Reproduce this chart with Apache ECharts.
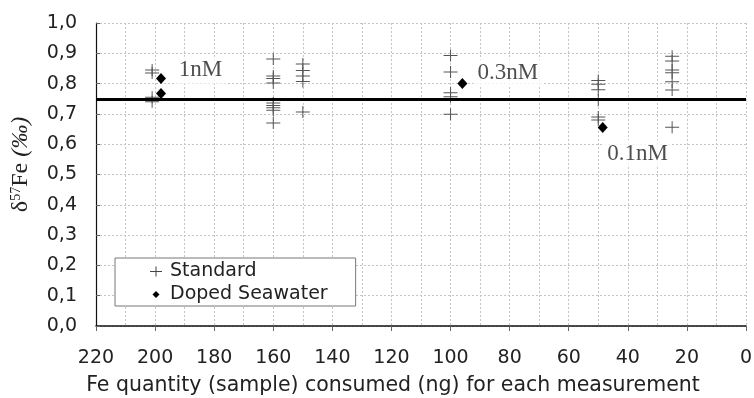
<!DOCTYPE html>
<html>
<head>
<meta charset="utf-8">
<script src="https://cdn.jsdelivr.net/npm/echarts@6/dist/echarts.min.js"></script>
<style>html,body{margin:0;padding:0;background:#fff;}#c{width:754px;height:398px;}</style>
</head>
<body>
<div id="c"></div>
<script>
// ---- data ----
const xTicks = [220, 200, 180, 160, 140, 120, 100, 80, 60, 40, 20, 0];
const yTicks = [0, 0.1, 0.2, 0.3, 0.4, 0.5, 0.6, 0.7, 0.8, 0.9, 1.0];
const stdX = [201, 160, 150, 100, 50, 25];
const stdValues = [
  [0.845, 0.835, 0.755, 0.74],
  [0.881, 0.825, 0.817, 0.802, 0.736, 0.728, 0.72, 0.712, 0.67],
  [0.865, 0.843, 0.825, 0.807, 0.706],
  [0.893, 0.838, 0.77, 0.757, 0.699],
  [0.81, 0.798, 0.78, 0.745, 0.69, 0.68],
  [0.89, 0.875, 0.845, 0.836, 0.806, 0.779, 0.656]
];
const dopedX = [198, 198, 96, 48.5];
const dopedY = [0.817, 0.767, 0.80, 0.655];
const annoNames = ['1nM', '0.3nM', '0.1nM'];
const annoX = [184.6, 80.6, 36.7];
const annoY = [0.844, 0.836, 0.569];
const refLevel = 0.75;

// ---- build ----
const stdData = [];
stdX.forEach((x, i) => stdValues[i].forEach(v => stdData.push([x, v])));
const dopedData = dopedX.map((x, i) => [x, dopedY[i]]);
const annoData = annoNames.map((n, i) => ({ name: n, value: [annoX[i], annoY[i]] }));

const plusPath = 'path://M0,5.5H14V6.5H0Z M6.5,0H7.5V12H6.5Z';
const plusIcon = 'path://M0,4.5H12V5.5H0Z M5.5,0H6.5V10H5.5Z';
const diaIcon = 'path://M0,0M12,10M6,1.5L9.5,5L6,8.5L2.5,5Z';
const sans = 'DejaVu Sans';
const serif = 'Liberation Serif';

const chart = echarts.init(document.getElementById('c'), null, { renderer: 'canvas' });
chart.setOption({
  animation: false,
  backgroundColor: '#fff',
  grid: { left: 96, right: 8, top: 23, bottom: 72, containLabel: false, outerBoundsMode: 'none' },
  xAxis: {
    type: 'value', inverse: true, min: 0, max: 220, interval: 20,
    axisLine: { onZero: false, lineStyle: { color: '#111', width: 1.5 } },
    axisTick: { show: true, length: 5, lineStyle: { color: '#666' } },
    axisLabel: { margin: 23, color: '#222', fontFamily: sans, fontSize: 19 },
    splitLine: { show: true, lineStyle: { color: '#c4c4c4', type: [2, 2], width: 1 } },
    minorTick: { show: false, splitNumber: 2 },
    minorSplitLine: { show: true, lineStyle: { color: '#c4c4c4', type: [2, 2], width: 1 } },
    name: 'Fe quantity (sample) consumed (ng) for each measurement',
    nameLocation: 'middle', nameGap: 49,
    nameTextStyle: { color: '#222', fontFamily: sans, fontSize: 20.5, padding: [0, 56, 0, 0] }
  },
  yAxis: {
    type: 'value', min: 0, max: 1, interval: 0.1,
    axisLine: { show: true, onZero: false, lineStyle: { color: '#111', width: 1.2 } },
    axisTick: { show: true, inside: true, length: 4, lineStyle: { color: '#666' } },
    axisLabel: { margin: 19, color: '#222', fontFamily: sans, fontSize: 19,
      formatter: v => v.toFixed(1).replace('.', ',') },
    splitLine: { show: true, lineStyle: { color: '#c4c4c4', type: [2, 2], width: 1 } },
    name: '{d|δ}{s|57}{d|Fe }{i|(‰)}',
    nameLocation: 'middle', nameGap: 63, nameRotate: 90,
    nameTextStyle: {
      color: '#222', padding: [0, 0, 0, 20],
      rich: {
        d: { fontFamily: serif, fontSize: 24, color: '#222' },
        s: { fontFamily: serif, fontSize: 14, color: '#222', verticalAlign: 'top' },
        i: { fontFamily: serif, fontSize: 24, fontStyle: 'italic', color: '#222' }
      }
    }
  },
  legend: {
    orient: 'vertical', left: 115, top: 258,
    padding: [4, 28, 2, 35], itemGap: 4, itemWidth: 12, itemHeight: 12,
    backgroundColor: '#fff', borderColor: '#777', borderWidth: 1, borderRadius: 0,
    textStyle: { color: '#222', fontFamily: sans, fontSize: 19, lineHeight: 19, padding: [0, 0, 0, 3] },
    data: [
      { name: 'Standard', icon: plusIcon, itemStyle: { color: '#444' } },
      { name: 'Doped Seawater', icon: diaIcon, itemStyle: { color: '#000' } }
    ]
  },
  series: [
    {
      name: 'Standard', type: 'scatter', symbol: plusPath, symbolSize: [14, 12],
      itemStyle: { color: '#555', opacity: 1 }, data: stdData, z: 2
    },
    {
      name: 'Doped Seawater', type: 'scatter', symbol: 'diamond', symbolSize: [10, 11],
      itemStyle: { color: '#000', opacity: 1 }, data: dopedData, z: 5,
      markLine: {
        silent: true, symbol: 'none', label: { show: false },
        lineStyle: { color: '#000', width: 3, type: 'solid' },
        data: [{ yAxis: refLevel }], z: 3
      }
    },
    {
      name: 'anno', type: 'scatter', symbolSize: 0, data: annoData, z: 4,
      label: {
        show: true, position: 'inside', formatter: '{b}',
        fontFamily: serif, fontSize: 23, color: '#222',
        backgroundColor: '#fff', padding: [3, 4, 1, 4]
      }
    }
  ]
});
</script>
</body>
</html>
